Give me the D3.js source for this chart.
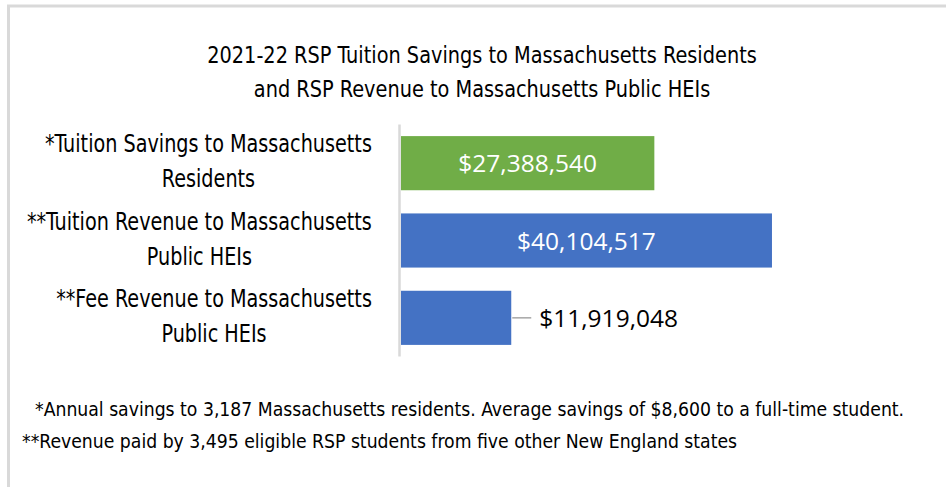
<!DOCTYPE html>
<html>
  <head>
    <meta charset="utf-8" />
    <title>rsp-savings-bar</title>
    <style>
      body { margin: 0; background: #ffffff; }
    </style>
  </head>
  <body>
    <svg width="946" height="487" id="mainsvg"></svg>
    <script src="https://cdn.jsdelivr.net/npm/d3@7"></script>
    <script>
      // data
      const categories = [
        ["*Tuition Savings to Massachusetts", "Residents"],
        ["**Tuition Revenue to Massachusetts", "Public HEIs"],
        ["**Fee Revenue to Massachusetts", "Public HEIs"]
      ];
      const values = [27388540, 40104517, 11919048];
      const barColors = ["#70ad47", "#4472c4", "#4472c4"];
      const labelInside = [true, true, false];
      const titleLines = [
        "2021-22 RSP Tuition Savings to Massachusetts Residents",
        "and RSP Revenue to Massachusetts Public HEIs"
      ];
      const notes = [
        "*Annual savings to 3,187 Massachusetts residents. Average savings of $8,600 to a full-time student.",
        "**Revenue paid by 3,495 eligible RSP students from five other New England states"
      ];

      const svg = d3.select("#mainsvg");
      const condFont = "\"DejaVu Sans Condensed\", \"DejaVu Sans\", sans-serif";

      // no narrow font installed, so squeeze the text horizontally
      const place = (sel, x, y, sx) =>
        sel.attr("x", 0).attr("y", 0)
          .attr("transform", (d, i) => `translate(${x(d, i)},${y(d, i)}) scale(${sx},1)`);

      // chart frame (only top and left edges are visible)
      svg.append("path")
        .attr("d", "M8.5,487 V6 H946")
        .attr("fill", "none")
        .attr("stroke", "#d9d9d9")
        .attr("stroke-width", 3);

      // title
      const title = svg.append("g").selectAll("text")
        .data(titleLines)
        .join("text")
        .attr("text-anchor", "middle")
        .attr("font-family", condFont)
        .attr("font-size", 23)
        .attr("fill", "#000")
        .text(d => d);
      place(title, () => 482, (d, i) => 63 + i * 34, 0.934);

      const xScale = d3.scaleLinear().domain([0, 50000000]).range([401, 863.5]);
      const yScale = d3.scaleBand().domain(d3.range(values.length)).range([124.5, 356.5]).paddingInner(0.3).paddingOuter(0.15);

      // bars
      svg.append("g").selectAll("rect")
        .data(values)
        .join("rect")
        .attr("x", xScale(0))
        .attr("y", (d, i) => yScale(i))
        .attr("width", d => xScale(d) - xScale(0))
        .attr("height", yScale.bandwidth())
        .attr("fill", (d, i) => barColors[i]);

      // axis line
      svg.append("line")
        .attr("x1", 399.5).attr("x2", 399.5)
        .attr("y1", 124.5).attr("y2", 356.5)
        .attr("stroke", "#d9d9d9")
        .attr("stroke-width", 2.5);

      // category labels: block right edge at 372, lines centered inside the block
      const labelRight = 372;
      const labelSx = 0.89;
      categories.forEach((lines, i) => {
        const cy = yScale(i) + yScale.bandwidth() / 2;
        const texts = svg.append("g").selectAll("text")
          .data(lines)
          .join("text")
          .attr("text-anchor", "middle")
          .attr("font-family", condFont)
          .attr("font-size", 24)
          .attr("fill", "#000")
          .text(d => d);
        const maxW = d3.max(texts.nodes(), n => n.getComputedTextLength()) * labelSx;
        place(texts, () => labelRight - maxW / 2, (d, j) => cy - 11 + j * 35, labelSx);
      });

      // value labels
      const fmt = d => "$" + d3.format(",")(d);
      values.forEach((v, i) => {
        const cy = yScale(i) + yScale.bandwidth() / 2;
        if (labelInside[i]) {
          svg.append("text")
            .attr("x", (xScale(0) + xScale(v)) / 2)
            .attr("y", cy + 9)
            .attr("text-anchor", "middle")
            .attr("font-family", "'Open Sans', sans-serif")
            .attr("font-size", 24.5)
            .attr("fill", "#ffffff")
            .text(fmt(v));
        } else {
          svg.append("line")
            .attr("x1", xScale(v) + 1).attr("x2", xScale(v) + 20)
            .attr("y1", cy).attr("y2", cy)
            .attr("stroke", "#a6a6a6")
            .attr("stroke-width", 1.5);
          svg.append("text")
            .attr("x", xScale(v) + 28)
            .attr("y", cy + 9)
            .attr("font-family", "'Open Sans', sans-serif")
            .attr("font-size", 24.5)
            .attr("fill", "#000")
            .text(fmt(v));
        }
      });

      // footnotes
      const foot = svg.append("g").selectAll("text")
        .data(notes)
        .join("text")
        .attr("font-family", condFont)
        .attr("font-size", 20)
        .attr("fill", "#000")
        .text(d => d);
      place(foot, (d, i) => i === 0 ? 35 : 22, (d, i) => 416 + i * 32, 0.96);
    </script>
  </body>
</html>
